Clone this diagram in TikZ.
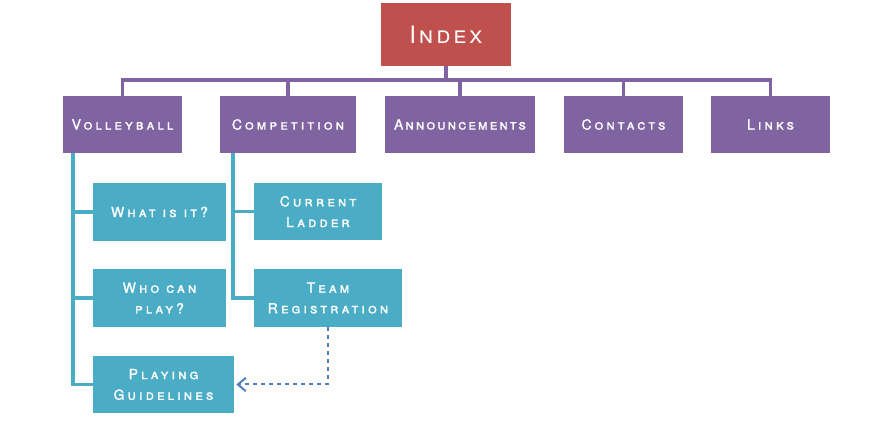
\documentclass[tikz,border=0pt]{standalone}
\usepackage{fontspec}
\usetikzlibrary{arrows.meta,calc}
\newfontfamily\boxfont[Letters=SmallCaps,LetterSpace=22,FakeBold=1.2]{TeX Gyre Heros}
\newfontfamily\indexfont[Letters=SmallCaps,LetterSpace=12]{TeX Gyre Heros}
\definecolor{indexred}{HTML}{C0504D}
\definecolor{mainpurple}{HTML}{8064A2}
\definecolor{subblue}{HTML}{4BACC6}
\definecolor{linkblue}{HTML}{4F81BD}
\tikzset{
  page/.style={draw=none, text=white, align=center, inner sep=0pt, font=\boxfont\fontsize{10.5}{15.5}\selectfont},
  toppage/.style={page, fill=mainpurple, minimum height=57*0.75pt},
  subpage/.style={page, fill=subblue, minimum height=58*0.75pt},
  bus/.style={draw=mainpurple, line width=2.5pt},
  branch/.style={draw=subblue, line width=2.5pt},
}
\begin{document}
\begin{tikzpicture}[x=0.75pt, y=-0.75pt]
\useasboundingbox (0,0) rectangle (892,423);
\node[page, fill=indexred, minimum width=130*0.75pt, minimum height=63*0.75pt, font=\indexfont\fontsize{18}{20}\selectfont] (index) at (446,34.5){Index};
\node[toppage, minimum width=119*0.75pt] (volley) at (122.5,124.5){Volleyball};
\node[toppage, minimum width=136*0.75pt] (comp) at (288,124.5){Competition};
\node[toppage, minimum width=150*0.75pt] (announce) at (460,124.5){\addfontfeatures{LetterSpace=15}Announcements};
\node[toppage, minimum width=119*0.75pt] (contacts) at (623.5,124.5){Contacts};
\node[toppage, minimum width=119*0.75pt] (links) at (770.5,124.5){Links};
\node[subpage, minimum width=133*0.75pt] (what) at (159.5,212){What is it?};
\node[subpage, minimum width=133*0.75pt] (who) at (159.5,298){Who can\\play?};
\node[subpage, minimum width=141*0.75pt, minimum height=57*0.75pt] (guide) at (163.5,384.5){Playing\\Guidelines};
\node[subpage, minimum width=128*0.75pt, minimum height=57*0.75pt] (ladder) at (318,211.5){Current\\Ladder};
\node[subpage, minimum width=148*0.75pt] (team) at (328,298){Team\\Registration};
\coordinate (busline) at (446,80);
\coordinate (vtrunk) at (73,153);
\coordinate (ctrunk) at (233,153);
% index to first level
\draw[bus] (index.south) -- (busline);
\draw[bus] (volley.north) |- (busline) -| (links.north);
\draw[bus] (comp.north) -- (comp.north |- busline);
\draw[bus] (announce.north) -- (announce.north |- busline);
\draw[bus] (contacts.north) -- (contacts.north |- busline);
% volleyball pages
\draw[branch] (vtrunk) |- (guide.west);
\draw[branch] (what.west) -- (what.west -| vtrunk);
\draw[branch] (who.west) -- (who.west -| vtrunk);
% competition pages
\draw[branch] (ctrunk) |- (team.west);
\draw[branch] (ladder.west) -- (ladder.west -| ctrunk);
% cross link
\draw[linkblue, line width=1.5pt, dashed, -{Straight Barb[length=6pt,width=10pt]}] (team.south) |- ($(guide.east)+(2,0)$);
\end{tikzpicture}
\end{document}
